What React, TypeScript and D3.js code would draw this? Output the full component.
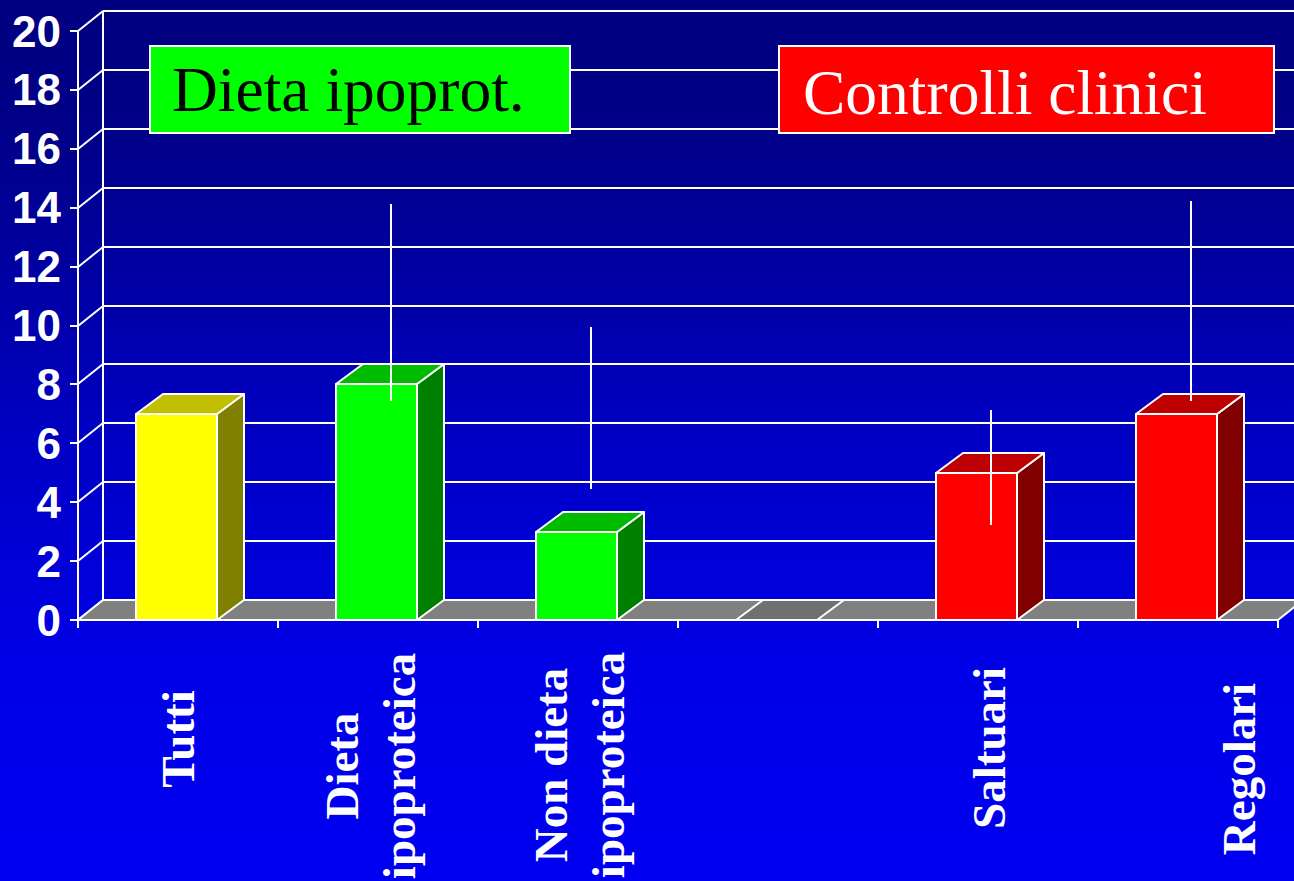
import React from "react";
import * as d3 from "d3";

const CATEGORIES = ["Tutti", "Dieta\nipoproteica", "Non dieta\nipoproteica", "", "Saltuari", "Regolari"];
const VALUES = [7, 8, 3, 0, 5, 7];
const ERR_LOW: (number | null)[] = [null, 7.1, 4.1, null, 2.9, 7.1];
const ERR_HIGH: (number | null)[] = [null, 13.8, 9.6, null, 6.8, 13.9];
const GROUPS = ["all", "diet", "diet", "none", "ctrl", "ctrl"];
const Y_TICKS = [0, 2, 4, 6, 8, 10, 12, 14, 16, 18, 20];
const LEGEND_LABELS = ["Dieta ipoprot.", "Controlli clinici"];

const W = 1294;
const H = 881;

const PALETTE: Record<string, { front: string; top: string; side: string }> = {
  all: { front: "#FFFF00", top: "#C0C000", side: "#808000" },
  diet: { front: "#00FF00", top: "#00BB00", side: "#008000" },
  ctrl: { front: "#FF0000", top: "#BE0000", side: "#800000" },
  none: { front: "#808080", top: "#707070", side: "#606060" },
};

// label nudges (layout only)
const LABEL_NUDGE: [number, number][] = [
  [0, -21],
  [-7, 6],
  [2, 5],
  [0, 0],
  [11, -12],
  [61, 9],
];

export default function App() {
  const x0 = 78;
  const x1 = 1278;
  const y = d3.scaleLinear().domain([0, 20]).range([620, 31]);
  const x = d3
    .scaleBand<number>()
    .domain(CATEGORIES.map((_, i) => i))
    .range([x0, x1])
    .paddingInner(0)
    .paddingOuter(0);
  const bw = x.bandwidth();
  const wallDx = 25;
  const wallDy = 20;
  const barDx = 27;
  const barDy = 20;
  const barOff = bw * 0.29;
  const barW = bw * 0.405;
  const white = "#FFFFFF";
  const sw = 2;
  const r = Math.round;

  const yF = (v: number) => r(y(v));
  const yBack = (v: number) => r(y(v) - wallDy);
  const yMid = (v: number) => r(y(v) - wallDy / 2);

  const pts = (arr: [number, number][]) => arr.map((p) => p.map((q) => r(q)).join(",")).join(" ");

  return (
    <svg
      width={W}
      height={H}
      style={{ position: "absolute", left: 0, top: 0, display: "block" }}
      xmlns="http://www.w3.org/2000/svg"
    >
      <defs>
        <linearGradient id="bg" x1="0" y1="0" x2="0" y2="1">
          <stop offset="0" stopColor="#000080" />
          <stop offset="0.15" stopColor="#000088" />
          <stop offset="0.3" stopColor="#0000A0" />
          <stop offset="0.5" stopColor="#0000C4" />
          <stop offset="0.75" stopColor="#0000E6" />
          <stop offset="1" stopColor="#0000F2" />
        </linearGradient>
      </defs>
      <rect x={0} y={0} width={W} height={H} fill="url(#bg)" />

      {/* back wall gridlines */}
      {Y_TICKS.map((t) => (
        <line
          key={"bg" + t}
          x1={x0 + wallDx}
          x2={W + 40}
          y1={yBack(t)}
          y2={yBack(t)}
          stroke={white}
          strokeWidth={sw}
        />
      ))}
      {/* left wall */}
      <line x1={x0 + wallDx} x2={x0 + wallDx} y1={yBack(20)} y2={yBack(0)} stroke={white} strokeWidth={sw} />
      {Y_TICKS.map((t) => (
        <line
          key={"lw" + t}
          x1={x0}
          y1={yF(t)}
          x2={x0 + wallDx}
          y2={yBack(t)}
          stroke={white}
          strokeWidth={sw}
        />
      ))}

      {/* floor */}
      <polygon
        points={pts([
          [x0, yF(0)],
          [x1, yF(0)],
          [x1 + wallDx, yBack(0)],
          [x0 + wallDx, yBack(0)],
        ])}
        fill="#808080"
        stroke={white}
        strokeWidth={sw}
        strokeLinejoin="round"
      />

      {/* front axis */}
      <line x1={x0} x2={x0} y1={yF(20)} y2={yF(0) + 8} stroke={white} strokeWidth={sw} />
      {Y_TICKS.map((t) => (
        <line key={"yt" + t} x1={x0 - 8} x2={x0} y1={yF(t)} y2={yF(t)} stroke={white} strokeWidth={sw} />
      ))}
      {CATEGORIES.map((_, i) => (
        <line
          key={"xt" + i}
          x1={r((x(i) as number) + bw)}
          x2={r((x(i) as number) + bw)}
          y1={yF(0)}
          y2={yF(0) + 8}
          stroke={white}
          strokeWidth={sw}
        />
      ))}
      {Y_TICKS.map((t) => (
        <text
          key={"yl" + t}
          x={61}
          y={y(t)}
          textAnchor="end"
          dominantBaseline="central"
          fill={white}
          fontFamily="'Liberation Sans', Arial, sans-serif"
          fontWeight="bold"
          fontSize={44}
        >
          {t}
        </text>
      ))}

      {/* bars */}
      {VALUES.map((v, i) => {
        const c = PALETTE[GROUPS[i]];
        const bx = (x(i) as number) + barOff;
        const yt = yF(v);
        const yb = yF(0);
        const front: [number, number][] = [
          [bx, yt],
          [bx + barW, yt],
          [bx + barW, yb],
          [bx, yb],
        ];
        const top: [number, number][] = [
          [bx, yt],
          [bx + barDx, yt - barDy],
          [bx + barW + barDx, yt - barDy],
          [bx + barW, yt],
        ];
        const side: [number, number][] = [
          [bx + barW, yt],
          [bx + barW + barDx, yt - barDy],
          [bx + barW + barDx, yb - barDy],
          [bx + barW, yb],
        ];
        return (
          <g key={"bar" + i} stroke={white} strokeWidth={sw} strokeLinejoin="round">
            {v > 0 && <polygon points={pts(front)} fill={c.front} />}
            {v > 0 && <polygon points={pts(side)} fill={c.side} />}
            <polygon points={pts(top)} fill={c.top} />
          </g>
        );
      })}

      {/* error bars */}
      {VALUES.map((v, i) => {
        const lo = ERR_LOW[i];
        const hi = ERR_HIGH[i];
        if (lo == null || hi == null) return null;
        const cx = r((x(i) as number) + barOff + barW / 2 + barDx / 2 + 1);
        return (
          <line
            key={"err" + i}
            x1={cx}
            x2={cx}
            y1={yMid(hi)}
            y2={yMid(lo)}
            stroke={white}
            strokeWidth={sw}
          />
        );
      })}

      {/* legend-like boxes */}
      <rect x={150} y={46} width={420} height={87} fill="#00FF00" stroke={white} strokeWidth={2} />
      <text
        x={172}
        y={111}
        fill="#000000"
        fontFamily="'Liberation Serif', 'Times New Roman', serif"
        fontSize={63.5}
      >
        {LEGEND_LABELS[0]}
      </text>
      <rect x={779} y={46} width={495} height={87} fill="#FF0000" stroke={white} strokeWidth={2} />
      <text
        x={803}
        y={114}
        fill={white}
        fontFamily="'Liberation Serif', 'Times New Roman', serif"
        fontSize={63.5}
      >
        {LEGEND_LABELS[1]}
      </text>

      {/* category labels */}
      {CATEGORIES.map((c, i) => {
        if (!c) return null;
        const lines = c.split("\n");
        const n = lines.length;
        const cx = (x(i) as number) + bw / 2 + LABEL_NUDGE[i][0];
        const cy = 760 + LABEL_NUDGE[i][1];
        return (
          <g key={"lab" + i}>
            {lines.map((ln, j) => {
              const bx = cx + 15.6 + (j - (n - 1) / 2) * 57;
              return (
                <text
                  key={j}
                  transform={`translate(${bx},${cy}) rotate(-90)`}
                  textAnchor="middle"
                  fill={white}
                  fontFamily="'Liberation Serif', 'Times New Roman', serif"
                  fontWeight="bold"
                  fontSize={47}
                >
                  {ln}
                </text>
              );
            })}
          </g>
        );
      })}
    </svg>
  );
}
